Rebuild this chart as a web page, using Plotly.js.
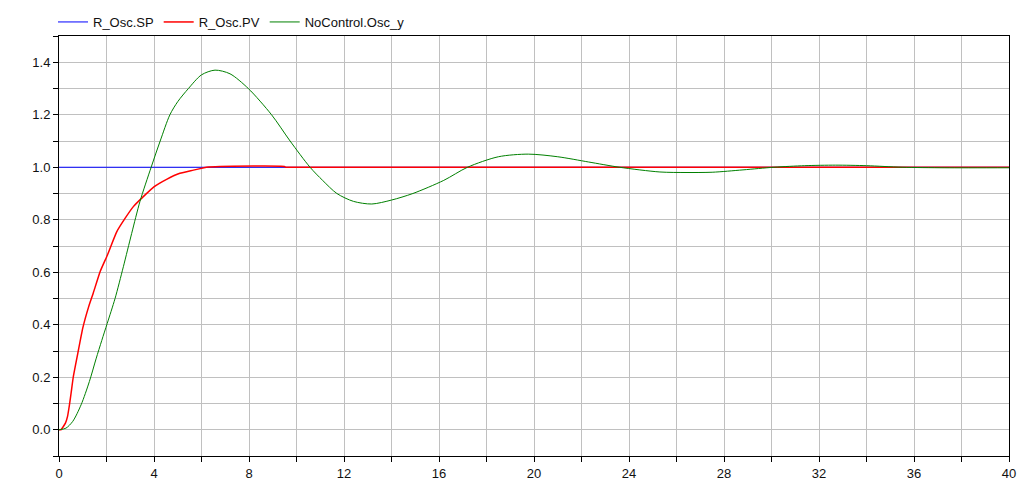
<!DOCTYPE html>
<html>
<head>
<meta charset="utf-8">
<script src="https://cdn.plot.ly/plotly-3.0.1.min.js"></script>
<style>
html,body{margin:0;padding:0;background:#fff;}
#chart{width:1034px;height:481px;}
</style>
</head>
<body>
<div id="chart"></div>
<script>
// Setpoint
const spTime = [0, 40];
const spValue = [1, 1];

// Controlled process value
const pvTime = [0, 0.08, 0.27, 0.36, 0.44, 0.51, 0.6, 0.79, 1.0, 1.25, 1.44, 1.73, 2.04, 2.43, 2.78, 3.13, 3.55, 4.01, 4.53, 5.09, 5.66, 6.15, 6.2, 6.78, 9.49, 9.55, 10, 20, 30, 40];
const pvValue = [0, 0, 0.025, 0.051, 0.095, 0.14, 0.2, 0.29, 0.387, 0.469, 0.52, 0.602, 0.666, 0.754, 0.805, 0.85, 0.888, 0.926, 0.954, 0.977, 0.989, 0.999, 1.0, 1.003, 1.003, 1.0, 1.0, 1.0, 1.0, 1.0];

// Uncontrolled oscillator output
const ncTime = [0, 0.29, 0.58, 0.93, 1.28, 1.56, 1.8, 2.03, 2.36, 2.71, 3.06, 3.41, 3.88, 4.26, 4.67, 5.0, 5.45, 6.0, 6.57, 7.2, 7.97, 8.95, 9.73, 10.57, 11.1, 11.7, 12.4, 13.17, 14.0, 14.9, 16.2, 17.2, 18.5, 19.76, 21.0, 22.3, 23.6, 25.3, 26.4, 27.5, 28.8, 30.1, 31.4, 32.7, 34.0, 35.5, 37.3, 40];
const ncValue = [0, 0.006, 0.032, 0.095, 0.184, 0.27, 0.34, 0.405, 0.5, 0.621, 0.748, 0.87, 1.0, 1.1, 1.2, 1.25, 1.3, 1.352, 1.37, 1.356, 1.3, 1.2, 1.1, 1.0, 0.95, 0.9, 0.87, 0.86, 0.875, 0.9, 0.95, 1.0, 1.04, 1.05, 1.04, 1.02, 1.0, 0.982, 0.98, 0.981, 0.99, 1.0, 1.006, 1.008, 1.006, 1.0, 0.998, 0.998];

const seriesNames = ["R_Osc.SP", "R_Osc.PV", "NoControl.Osc_y"];
const seriesColors = ["#0000ff", "#ff0000", "#008000"];

const traces = [
  {x: spTime, y: spValue, name: seriesNames[0], mode: "lines", line: {color: seriesColors[0], width: 1}},
  {x: pvTime, y: pvValue, name: seriesNames[1], mode: "lines", line: {color: seriesColors[1], width: 1.5, shape: "spline", smoothing: 0.5}},
  {x: ncTime, y: ncValue, name: seriesNames[2], mode: "lines", line: {color: seriesColors[2], width: 1, shape: "spline", smoothing: 0.8}}
];

const gridColor = "#c0c0c0";
const tickFont = {family: "Liberation Sans, Arial, sans-serif", size: 13, color: "#111"};

const layout = {
  width: 1034,
  height: 481,
  paper_bgcolor: "#ffffff",
  plot_bgcolor: "#ffffff",
  margin: {l: 59, r: 25, t: 36, b: 25, autoexpand: false},
  showlegend: true,
  legend: {
    orientation: "h",
    x: -6 / 950, xanchor: "left",
    yref: "container",
    y: 1 - 7 / 481, yanchor: "top",
    font: {family: "Liberation Sans, Arial, sans-serif", size: 13, color: "#111"},
    bgcolor: "rgba(0,0,0,0)"
  },
  xaxis: {
    range: [0, 40],
    dtick: 4, tick0: 0,
    ticks: "outside", ticklen: 5, tickcolor: "#000",
    showgrid: true, gridcolor: gridColor, gridwidth: 1,
    minor: {dtick: 2, showgrid: true, gridcolor: gridColor, ticks: "outside", ticklen: 5, tickcolor: "#000"},
    showline: true, linecolor: "#000", linewidth: 1, mirror: true,
    zeroline: false,
    tickfont: tickFont
  },
  yaxis: {
    range: [-0.1, 1.5],
    dtick: 0.2, tick0: 0, tickformat: ".1f",
    ticks: "outside", ticklen: 5, tickcolor: "#000",
    showgrid: true, gridcolor: gridColor, gridwidth: 1,
    minor: {dtick: 0.1, showgrid: true, gridcolor: gridColor, ticks: "outside", ticklen: 5, tickcolor: "#000"},
    showline: true, linecolor: "#000", linewidth: 1, mirror: true,
    zeroline: false,
    tickfont: tickFont
  }
};

Plotly.newPlot("chart", traces, layout, {displayModeBar: false, staticPlot: true});
</script>
</body>
</html>
